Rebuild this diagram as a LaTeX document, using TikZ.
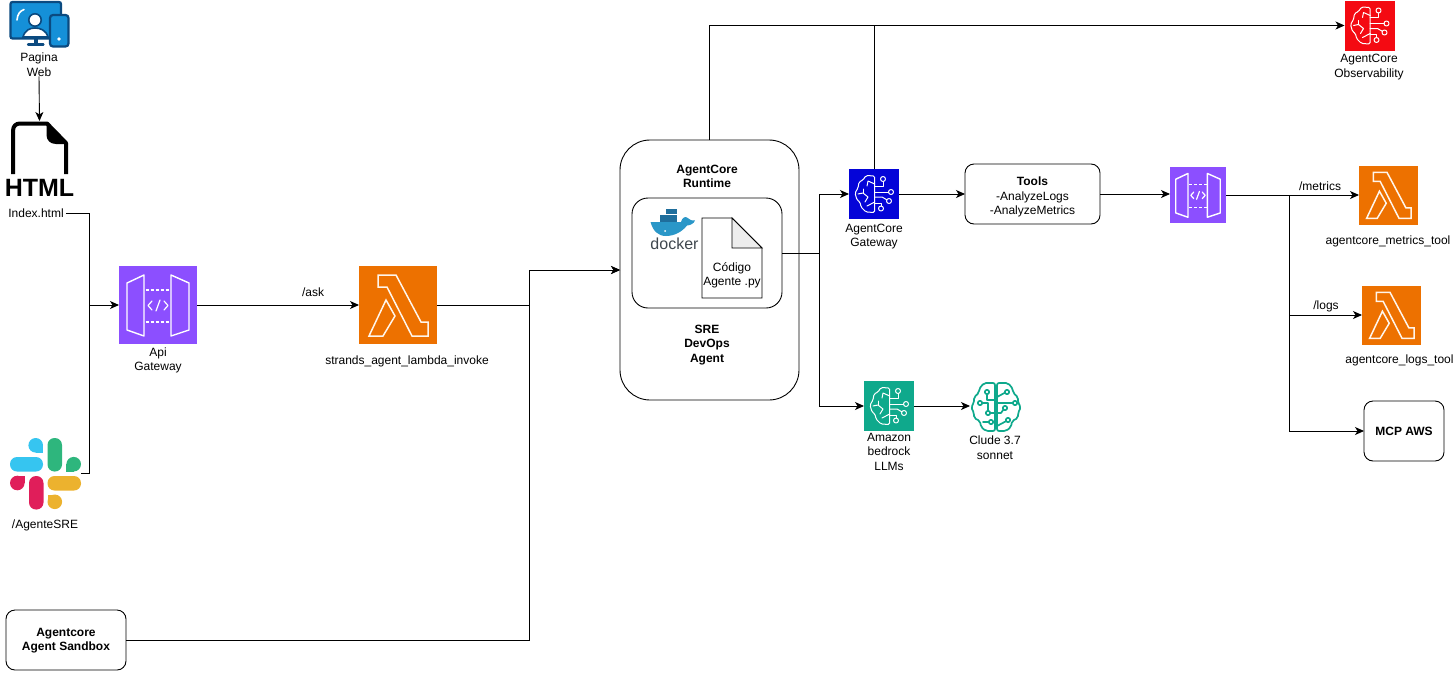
\documentclass[tikz,border=0pt]{standalone}
\usepackage{fontspec}
\setmainfont{Liberation Sans}
\usetikzlibrary{arrows.meta}
\definecolor{purpleaws}{HTML}{8C4FFF}
\definecolor{orangeaws}{HTML}{ED7100}
\definecolor{blueaws}{HTML}{0404D8}
\definecolor{tealaws}{HTML}{0FA98C}
\definecolor{redaws}{HTML}{F40A12}
\definecolor{navyweb}{HTML}{0B4A80}
\definecolor{blueweb}{HTML}{1590D8}
\definecolor{dockerblue}{HTML}{2A97C8}
\definecolor{dockerdark}{HTML}{1F6E9C}
\definecolor{slackblue}{RGB}{54,197,240}
\definecolor{slackgreen}{RGB}{46,182,125}
\definecolor{slackred}{RGB}{224,30,90}
\definecolor{slackyellow}{RGB}{236,178,46}
\tikzset{
  conn/.style={draw=black,line width=0.9pt},
  arrowconn/.style={conn,-{Stealth[length=9pt,width=8pt,inset=2.5pt]}},
  lbl/.style={font=\fontsize{12}{14.5}\selectfont,align=center,inner sep=0pt,text=black},
  blbl/.style={font=\fontsize{12}{14.5}\selectfont\bfseries,align=center,inner sep=0pt,text=black},
  iconbox/.style={rectangle,inner sep=0pt,outer sep=0pt},
  rbox/.style={rectangle,draw=black,line width=0.9pt,fill=white,rounded corners=9pt,inner sep=0pt,outer sep=0pt,
    font=\fontsize{12}{14.5}\selectfont,align=center},
  glyphline/.style={draw=white,line width=1pt,line join=round,line cap=round},
  glyphfat/.style={draw=white!92!orange,line width=1.5pt,line join=miter},
  lambdaglyph/.pic={
    \draw[glyphfat] (19,9) -- (37,9) -- (62,56) -- (69,56) -- (69,70) -- (53,70) -- (28,21) -- (19,21) -- cycle;
    \draw[glyphfat] (27,34) -- (36,50) -- (24,70) -- (10,70) -- cycle;
  },
  apiglyph/.pic={
    \draw[glyphline,line width=1.4pt] (8,17) -- (25,9) -- (25,70) -- (8,64) -- cycle;
    \draw[glyphline,line width=1.4pt] (52,9) -- (70,17) -- (70,64) -- (52,70) -- cycle;
    \draw[draw=white,line width=1.2pt,dash pattern=on 3pt off 2pt] (26.5,24) -- (51,24);
    \draw[draw=white,line width=1.2pt,dash pattern=on 3pt off 2pt] (26.5,56) -- (51,56);
    \draw[glyphline,line width=1.2pt] (33,35) -- (29,39.5) -- (33,44);
    \draw[glyphline,line width=1.2pt] (45,35) -- (49,39.5) -- (45,44);
    \draw[glyphline,line width=1.2pt] (41,34) -- (37,45);
  },
  brainglyph/.pic={
    \draw[glyphline,rounded corners=1.5pt] (25.7,7) -- (17,6.5) -- (14,11) -- (10,13) -- (9,19) -- (6,24) -- (8,31) -- (11,33) -- (12,38) -- (17,43) -- (25.7,43.5) -- cycle;
    \draw[glyphline] (25.7,15) -- (19,12) -- (18,17);
    \draw[glyphline] (9,25) -- (14,24) -- (19,28) -- (16,33);
    \draw[glyphline] (14,20) -- (14,24);
    \draw[glyphline] (25.7,33) -- (18,37);
    \draw[glyphline] (25.7,23) -- (39.5,23);
    \draw[glyphline] (42,23) circle (2.5);
    \draw[glyphline] (25.7,17) -- (34,17) -- (34,12.5);
    \draw[glyphline] (34,10) circle (2.5);
    \draw[glyphline] (25.7,28) -- (33,28) -- (37.8,30.8);
    \draw[glyphline] (40,32) circle (2.5);
    \draw[glyphline] (25.7,34) -- (32,34) -- (32,37);
    \draw[glyphline] (32,39.5) circle (2.5);
  },
  cludeglyph/.pic={
    \begin{scope}[draw=tealaws,line width=1.7pt,line join=round,line cap=round]
    \draw[rounded corners=2pt] (25,2) -- (14,2) -- (9,8) -- (9,12) -- (4,16) -- (4,22) -- (1,26) -- (4,32) -- (4,37) -- (10,40) -- (11,46) -- (16,50) -- (25,50) -- cycle;
    \draw[rounded corners=2pt] (27,2) -- (38,2) -- (43,8) -- (43,12) -- (48,16) -- (48,22) -- (51,26) -- (48,32) -- (48,37) -- (42,40) -- (41,46) -- (36,50) -- (27,50) -- cycle;
    \draw (17,11) circle (2.2); \draw (10,22) circle (2.2); \draw (18,32) circle (2.2); \draw (21,41) circle (2.2);
    \draw (37,11) circle (2.2); \draw (45,22) circle (2.2); \draw (35,27) circle (2.2); \draw (38,39) circle (2.2);
    \draw (17,13.2) -- (17,19) -- (25,19);
    \draw (12.2,22) -- (18,22) -- (18,29.8);
    \draw (25,32) -- (20.2,32);
    \draw (13,41) -- (18.8,41);
    \draw (27,16) -- (34.9,11.7);
    \draw (27,22) -- (42.8,22);
    \draw (27,32) -- (31,32) -- (33.4,28.6);
    \draw (27,45) -- (36,40.2);
    \end{scope}
  },
}
\begin{document}
\begin{tikzpicture}[x=1pt,y=-1pt]
\useasboundingbox (0,0) rectangle (1453,672);

% Web page icon
\node[iconbox,minimum width=60pt,minimum height=47pt] (web) at (39.5,24) {};
\draw[navyweb,fill=blueweb,line width=2.2pt,rounded corners=2pt] (10.5,2) rectangle (61,38.5);
\fill[navyweb] (33.5,39) rectangle (37.5,44);
\draw[navyweb,line width=2.2pt,line cap=round] (28,44.5) -- (43.5,44.5);
\draw[white,line width=1.6pt,line cap=round] (17,20) .. controls (17.5,14) and (20,11) .. (24,9.5);
\fill[white,draw=navyweb,line width=1.6pt] (35,20) circle (6.2);
\fill[white,draw=navyweb,line width=1.6pt] (23,37) .. controls (25,30) and (30,28) .. (35,28) .. controls (40,28) and (46,30) .. (48,37) -- cycle;
\draw[navyweb,fill=blueweb,line width=2.2pt,rounded corners=3pt] (50,15) rectangle (68.5,46.5);
\fill[white] (59,39) circle (1.8);
\node[lbl] (pw) at (39,64.5) {Pagina\\Web};

% HTML file icon
\node[iconbox,minimum width=69pt,minimum height=78pt] (html) at (39.5,160) {};
\draw[black,line width=4pt,line join=round] (13,174) -- (13,131) .. controls (13,126) and (16,123.5) .. (20,123.5) -- (47,123.5) -- (66,143) -- (66,174);
\fill[black] (46.5,124) -- (68,144) -- (56,144) .. controls (50,144) and (46.5,140) .. (46.5,135) -- cycle;
\node[inner sep=0pt,font=\fontsize{25}{25}\selectfont\bfseries] (htmlt) at (39.5,188) {HTML};
\node[lbl] (idx) at (36,213.5) {Index.html};

% Slack icon
\node[iconbox,minimum width=71pt,minimum height=72pt] (slack) at (45.5,473.5) {};
\fill[rounded corners=7pt,slackblue] (10,457) rectangle (43,471.5);
\fill[slackblue] (35.7,445.3) circle (7.3);
\fill[slackblue] (35.7,445.3) rectangle (43,452.5);
\fill[rounded corners=7pt,slackgreen] (47.5,438) rectangle (62,471.5);
\fill[slackgreen] (73.7,464.2) circle (7.3);
\fill[slackgreen] (66.4,464.2) rectangle (73.7,471.5);
\fill[slackred] (17.3,483) circle (7.3);
\fill[slackred] (17.3,475.7) rectangle (24.6,483);
\fill[rounded corners=7pt,slackred] (29,476) rectangle (43.5,509.5);
\fill[rounded corners=7pt,slackyellow] (47.5,476) rectangle (81,490.5);
\fill[slackyellow] (54.8,501.8) circle (7.3);
\fill[slackyellow] (47.5,494.5) rectangle (54.8,501.8);
\node[lbl] (slk) at (45,525) {/AgenteSRE};

% Sandbox
\node[rbox,minimum width=120pt,minimum height=60pt] (sb) at (66,640) {};
\node[blbl] (sbl) at (66,640.8) {Agentcore\\Agent Sandbox};

% API Gateway
\node[iconbox,fill=purpleaws,minimum size=78pt] (api) at (158,305) {};
\pic at (api.north west) {apiglyph};
\node[lbl] (apil) at (158,360.5) {Api\\Gateway};
% Lambda invoke
\node[iconbox,fill=orangeaws,minimum size=78pt] (lam) at (398,305) {};
\pic at (lam.north west) {lambdaglyph};
\node[lbl] (laml) at (407,361) {strands\_agent\_lambda\_invoke};
\node[lbl] (askl) at (313,292) {/ask};

% Runtime
\node[rbox,rounded corners=30pt,minimum width=179pt,minimum height=260pt] (rt) at (709.5,270) {};
\node[blbl] (rtl) at (707,176.5) {AgentCore\\Runtime};
\node[blbl] (srel) at (707,345) {SRE\\DevOps\\Agent};
\node[rbox,rounded corners=16pt,minimum width=150pt,minimum height=110pt] (inner) at (707,253) {};
% docker
\node[iconbox,minimum width=50pt,minimum height=42pt] (dock) at (675,229) {};
\fill[dockerdark] (660,214.5) rectangle (677,222);
\fill[dockerdark] (666,208.5) rectangle (677,214);
\fill[dockerblue] (650.5,222) -- (681,222) .. controls (682,218) and (685,216) .. (687,217.5) .. controls (689,219) and (691,221) .. (695,220.5) .. controls (694,223.5) and (690,225.5) .. (687,225.5) .. controls (682,232) and (674,236) .. (666,236) .. controls (658,236) and (653,231) .. (650.5,222) -- cycle;
\fill[white] (665,231) circle (1);
\node[inner sep=0pt,font=\fontsize{16}{16}\selectfont,text=black!70!cyan!70!black] (dockt) at (674.5,244) {docker};
% code doc
\node[iconbox,minimum width=60pt,minimum height=80pt] (code) at (732,258) {};
\draw[black,fill=white,line width=0.9pt] (702,218) -- (732,218) -- (762,248) -- (762,298) -- (702,298) -- cycle;
\draw[black,fill=black!7,line width=0.9pt] (732,218) -- (762,248) -- (732,248) -- cycle;
\node[lbl] (codel) at (732,275.5) {Código\\Agente .py};

% AgentCore gateway
\node[iconbox,fill=blueaws,minimum size=50pt] (gw) at (874,194) {};
\pic at (gw.north west) {brainglyph};
\node[lbl] (gwl) at (874,236.5) {AgentCore\\Gateway};
% Bedrock
\node[iconbox,fill=tealaws,minimum size=50pt] (bed) at (889,406) {};
\pic at (bed.north west) {brainglyph};
\node[lbl] (bedl) at (889,451.5) {Amazon\\bedrock\\LLMs};
% Clude
\node[iconbox,minimum size=52pt] (clu) at (996,407) {};
\pic at (clu.north west) {cludeglyph};
\node[lbl] (clul) at (995,447.5) {Clude 3.7\\sonnet};
% Observability
\node[iconbox,fill=redaws,minimum size=50pt] (obs) at (1369.5,25.5) {};
\pic at (obs.north west) {brainglyph};
\node[lbl] (obsl) at (1369,67) {AgentCore\\Observability};

% Tools
\node[rbox,minimum width=135pt,minimum height=60pt] (tools) at (1032.5,194) {};
\node[lbl] (toolsl) at (1032.5,197) {\textbf{Tools}\\-AnalyzeLogs\\-AnalyzeMetrics};
% API 2
\node[iconbox,fill=purpleaws,minimum size=56pt] (apib) at (1198,195) {};
\pic[scale=0.718] at (apib.north west) {apiglyph};
% Lambda metrics
\node[iconbox,fill=orangeaws,minimum size=59pt] (lamm) at (1388.5,195) {};
\pic[scale=0.756] at (lamm.north west) {lambdaglyph};
\node[lbl] (lamml) at (1388,241) {agentcore\_metrics\_tool};
\node[lbl] (metl) at (1320,186) {/metrics};
% Lambda logs
\node[iconbox,fill=orangeaws,minimum size=59pt] (laml2) at (1391.5,315) {};
\pic[scale=0.756] at (laml2.north west) {lambdaglyph};
\node[lbl] (lamll) at (1399.5,360) {agentcore\_logs\_tool};
\node[lbl] (logl) at (1326,306) {/logs};
% MCP
\node[rbox,minimum width=80pt,minimum height=60pt,font=\fontsize{12}{14.5}\selectfont\bfseries] (mcp) at (1404,431) {MCP AWS};

% Junctions
\coordinate (jl) at (89,305);
\coordinate (jm) at (529,305);
\coordinate (jr) at (819,253);
\coordinate (jt) at (1289,195);

% Connectors
\draw[arrowconn] (pw.south) -- (html.north);
\draw[conn] (idx.east) ++(2,0) -| (jl);
\draw[conn] (slack.east) -| (jl);
\draw[arrowconn] (jl) -- (api.west);
\draw[arrowconn] (api.east) -- (lam.west);
\draw[conn] (lam.east) -- (jm);
\draw[arrowconn] (jm) |- (rt.west);
\draw[arrowconn] (sb.east) -| (jm |- rt.west) -- (rt.west);
\draw[conn] (inner.east) -- (jr);
\draw[arrowconn] (jr) |- (gw.west);
\draw[arrowconn] (jr) |- (bed.west);
\draw[arrowconn] (bed.east) -- (bed.east -| clu.west);
\draw[arrowconn] (rt.north) |- (obs.west);
\draw[conn] (gw.north) -- (gw.north |- obs.west);
\draw[arrowconn] (gw.east) -- (gw.east -| tools.west);
\draw[arrowconn] (tools.east) -- (tools.east -| apib.west);
\draw[arrowconn] (apib.east) -- (lamm.west);
\draw[arrowconn] (jt) |- (laml2.west);
\draw[arrowconn] (jt) |- (mcp.west);
\end{tikzpicture}
\end{document}
